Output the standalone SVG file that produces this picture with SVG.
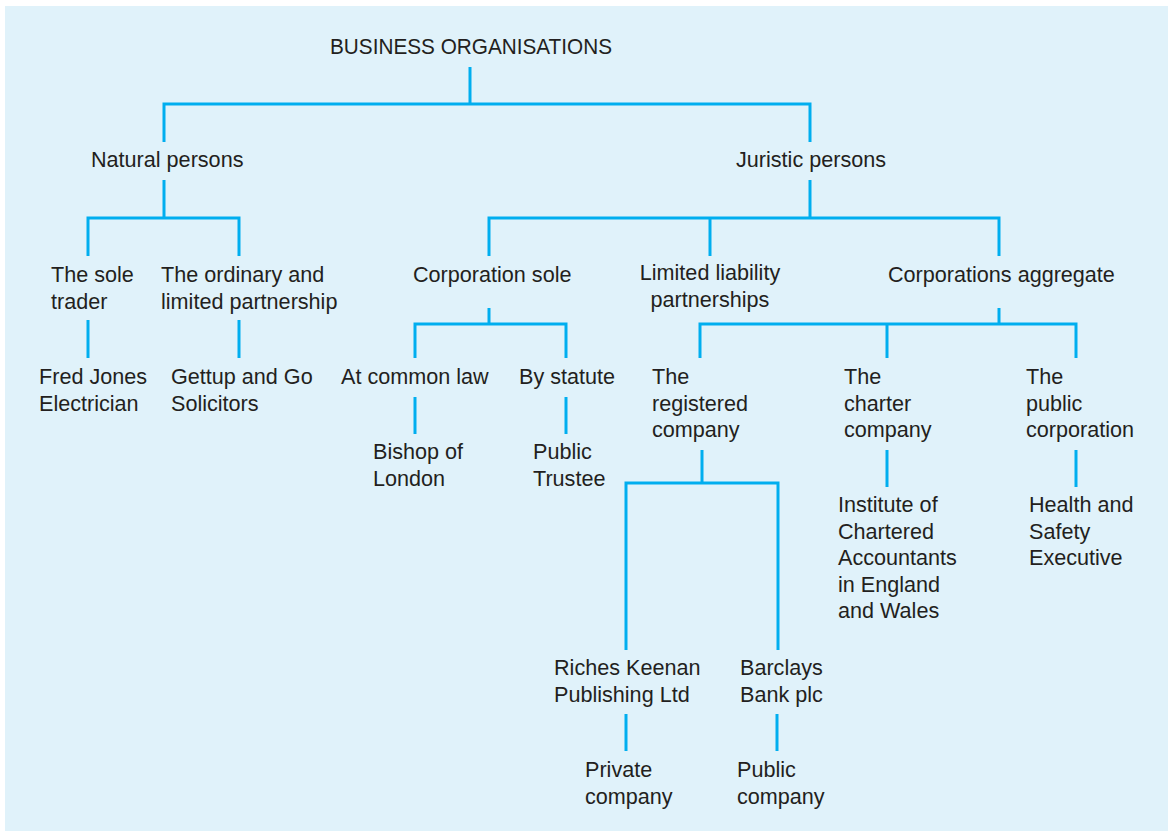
<svg xmlns="http://www.w3.org/2000/svg" width="1168" height="832" viewBox="0 0 1168 832">
<style>
text{font-family:"Liberation Sans",Arial,sans-serif;font-size:21.6px;fill:#231f20}
.c{text-anchor:middle}
#connectors path{fill:none;stroke:#00aeef;stroke-width:3}
</style>
<rect x="0" y="0" width="1168" height="832" fill="#ffffff"/>
<rect x="5" y="6" width="1163" height="825" fill="#e0f2fa"/>
<g id="connectors">
<path d="M470 67V104M164 142V104H810V142"/>
<path d="M164 180V218M88 256V218H239V256"/>
<path d="M810 180V218M489 256V218H999V256M710 218V256"/>
<path d="M88 320V358M239 320V358"/>
<path d="M489 308V324M415 358V324H566V358"/>
<path d="M999 308V324M700 358V324H1076V358M887 324V358"/>
<path d="M415 397V434M566 397V434"/>
<path d="M702 450V483M626 650V483H778V650"/>
<path d="M887 450V487M1076 450V487"/>
<path d="M626 714V751M777 714V751"/>
</g>
<g id="root"><text x="330" y="54" textLength="282" lengthAdjust="spacingAndGlyphs">BUSINESS ORGANISATIONS</text></g>
<g id="natural"><text x="91" y="167">Natural persons</text></g>
<g id="juristic"><text x="736" y="167">Juristic persons</text></g>
<g id="soletrader"><text x="51" y="282">The sole</text><text x="51" y="308.5">trader</text></g>
<g id="partnership"><text x="161" y="282">The ordinary and</text><text x="161" y="308.5">limited partnership</text></g>
<g id="corpsole"><text x="413" y="282">Corporation sole</text></g>
<g id="llp"><text class="c" x="710" y="280">Limited liability</text><text class="c" x="710" y="306.5">partnerships</text></g>
<g id="corpagg"><text x="888" y="282">Corporations aggregate</text></g>
<g id="fredjones"><text x="39" y="384">Fred Jones</text><text x="39" y="410.5">Electrician</text></g>
<g id="gettup"><text x="171" y="384">Gettup and Go</text><text x="171" y="410.5">Solicitors</text></g>
<g id="commonlaw"><text x="341" y="384">At common law</text></g>
<g id="statute"><text x="519" y="384">By statute</text></g>
<g id="registered"><text x="652" y="384">The</text><text x="652" y="410.5">registered</text><text x="652" y="437">company</text></g>
<g id="charter"><text x="844" y="384">The</text><text x="844" y="410.5">charter</text><text x="844" y="437">company</text></g>
<g id="publiccorp"><text x="1026" y="384">The</text><text x="1026" y="410.5">public</text><text x="1026" y="437">corporation</text></g>
<g id="bishop"><text x="373" y="459">Bishop of</text><text x="373" y="485.5">London</text></g>
<g id="trustee"><text x="533" y="459">Public</text><text x="533" y="485.5">Trustee</text></g>
<g id="institute"><text x="838" y="512">Institute of</text><text x="838" y="538.5">Chartered</text><text x="838" y="565">Accountants</text><text x="838" y="591.5">in England</text><text x="838" y="618">and Wales</text></g>
<g id="hse"><text x="1029" y="512">Health and</text><text x="1029" y="538.5">Safety</text><text x="1029" y="565">Executive</text></g>
<g id="riches"><text x="554" y="675">Riches Keenan</text><text x="554" y="701.5">Publishing Ltd</text></g>
<g id="barclays"><text x="740" y="675">Barclays</text><text x="740" y="701.5">Bank plc</text></g>
<g id="private"><text x="585" y="777">Private</text><text x="585" y="803.5">company</text></g>
<g id="public"><text x="737" y="777">Public</text><text x="737" y="803.5">company</text></g>
</svg>
